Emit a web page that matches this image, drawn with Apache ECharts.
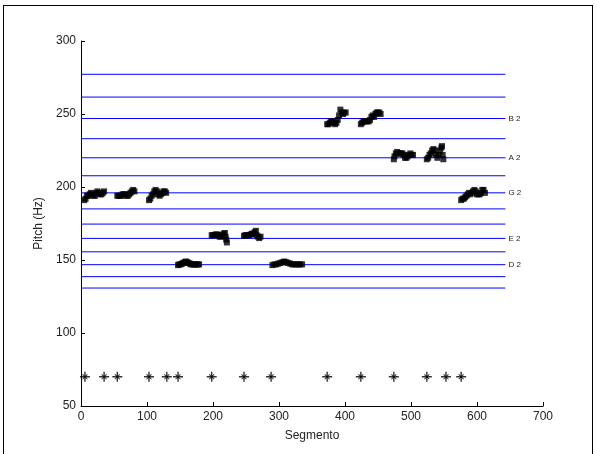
<!DOCTYPE html>
<html>
<head>
<meta charset="utf-8">
<script src="https://cdn.jsdelivr.net/npm/echarts@6/dist/echarts.min.js"></script>
<style>
html,body{margin:0;padding:0;background:#fff;}
#frame{position:absolute;left:3px;top:5px;width:590px;height:460px;border:1px solid #000;box-sizing:border-box;}
#chart{position:absolute;left:0;top:0;width:597px;height:454px;}
</style>
</head>
<body>
<div id="frame"></div>
<div id="chart"></div>
<script>
// Note reference lines (Hz) and labels
const noteFreqs = [130.8, 138.6, 146.8, 155.6, 164.8, 174.6, 185.0, 196.0, 207.7, 220.0, 233.1, 246.9, 261.6, 277.2];
const noteLabels = ['', '', 'D 2', '', 'E 2', '', '', 'G 2', '', 'A 2', '', 'B 2', '', ''];
const noteLineEnd = 643;

// Segment onsets (asterisks at 70 Hz)
const onsetX = [6, 35, 55, 103, 130, 147, 198, 247, 288, 373, 424, 474, 524, 553, 576];
const onsetY = 70;

// Pitch contours [segment, Hz]
const contour1 = [[5,191],[7,192],[9,194],[11,194],[13,195],[15,196],[17,195],[19,194],[21,194],[23,196],[25,197],[27,196],[29,195],[31,195],[33,196],[35,197]];
const contour2 = [[55,194],[57,194],[59,194],[61,194],[63,195],[65,195],[67,195],[69,194],[71,194],[73,195],[75,196],[77,197],[79,198],[81,197]];
const contour3 = [[103,191],[105,192],[107,194],[109,195],[111,197],[113,198],[115,197],[117,195],[119,194],[121,195],[123,196],[125,197],[127,197],[129,196]];
const contour4 = [[147,146.5],[149,147],[151,147],[153,147.5],[155,148],[157,148.5],[159,149],[161,148.5],[163,148],[165,147.5],[167,147],[169,147],[171,147],[173,147],[175,147],[177,147],[179,147]];
const contour5 = [[198,167],[200,167],[202,167],[204,167.5],[206,167.5],[208,167],[210,166],[212,166],[214,167],[216,168],[218,168.5],[219,166],[220,164],[221,162]];
const contour6 = [[247,166.5],[249,167],[251,167],[253,167],[255,167],[257,167.5],[259,168],[261,168],[263,169],[265,170],[266,167],[268,166],[270,165],[272,166]];
const contour7 = [[290,146.5],[293,147],[296,147],[299,147.5],[302,148],[305,148.5],[308,149],[311,148.5],[314,148],[317,147.5],[320,147],[323,147],[326,147],[329,147],[332,147],[335,147]];
const contour8 = [[373,243],[375,243],[377,244],[379,245],[381,245],[383,244],[385,243],[387,244],[389,246],[391,249],[393,253],[395,251],[397,250],[399,251],[401,251]];
const contour9 = [[424,243],[426,244],[428,245],[430,245],[432,245],[434,245],[436,245],[438,246],[440,248],[442,249],[444,248],[446,250],[448,251],[450,251],[452,251],[454,250]];
const contour10 = [[474,219],[475,221],[477,223],[479,224],[481,223],[483,223],[485,223],[487,223],[489,222],[491,220],[493,220],[495,221],[497,222],[499,223],[501,222],[503,222]];
const contour11 = [[524,219],[526,220],[528,222],[530,223],[532,225],[534,226],[536,225],[538,222],[540,220],[542,222],[544,225],[546,227],[547,228],[548,222],[549,219]];
const contour12 = [[576,191],[578,192],[580,192],[582,193],[584,194],[586,195],[588,196],[590,195],[592,196],[594,197],[596,198],[598,197],[600,195],[602,195],[604,195],[606,196],[608,198],[610,198],[612,196]];
const contours = [contour1, contour2, contour3, contour4, contour5, contour6, contour7, contour8, contour9, contour10, contour11, contour12];

const chart = echarts.init(document.getElementById('chart'), null, {renderer: 'canvas'});
const txt = {fontFamily: 'Liberation Sans, Arial, sans-serif', color: '#222'};

const series = [];
noteFreqs.forEach((f, i) => {
  series.push({
    type: 'line', name: noteLabels[i] || ('n' + i),
    data: [[0, f], [noteLineEnd, f]],
    symbol: 'none', silent: true,
    lineStyle: {color: '#0000ff', width: 1},
    endLabel: {show: !!noteLabels[i], formatter: noteLabels[i], fontSize: 8, color: '#222', distance: 3, fontFamily: 'Liberation Sans, Arial, sans-serif'},
    z: 1
  });
});
series.push({
  type: 'scatter',
  data: contours.flat(),
  symbol: 'rect', symbolSize: 6,
  itemStyle: {color: '#000'},
  z: 3
});
const onsetData = onsetX.map(x => [x, onsetY]);
series.push({
  type: 'scatter', data: onsetData,
  symbol: 'path://M4.3,0 H5.7 V4.3 H10 V5.7 H5.7 V10 H4.3 V5.7 H0 V4.3 H4.3 Z',
  symbolSize: 10, itemStyle: {color: '#000'}, z: 4
});
series.push({
  type: 'scatter', data: onsetData,
  symbol: 'path://M4.3,0 H5.7 V4.3 H10 V5.7 H5.7 V10 H4.3 V5.7 H0 V4.3 H4.3 Z',
  symbolSize: 7, symbolRotate: 45, itemStyle: {color: '#000'}, z: 4
});

chart.setOption({
  animation: false,
  backgroundColor: 'transparent',
  grid: {left: 81, right: 54, top: 41, bottom: 48},
  xAxis: {
    type: 'value', min: 0, max: 700, interval: 100,
    name: 'Segmento', nameLocation: 'middle', nameGap: 24,
    nameTextStyle: Object.assign({fontSize: 12}, txt),
    axisLine: {show: true, lineStyle: {color: '#000', width: 1}},
    axisTick: {show: true, inside: true, length: 4, lineStyle: {color: '#000'}},
    axisLabel: Object.assign({fontSize: 12, margin: 5}, txt),
    splitLine: {show: false}
  },
  yAxis: {
    type: 'value', min: 50, max: 300, interval: 50,
    name: 'Pitch (Hz)', nameLocation: 'middle', nameGap: 36,
    nameTextStyle: Object.assign({fontSize: 12}, txt),
    axisLine: {show: true, lineStyle: {color: '#000', width: 1}},
    axisTick: {show: true, inside: true, length: 4, lineStyle: {color: '#000'}},
    axisLabel: Object.assign({fontSize: 12, margin: 5}, txt),
    splitLine: {show: false}
  },
  series: series
});
</script>
</body>
</html>
